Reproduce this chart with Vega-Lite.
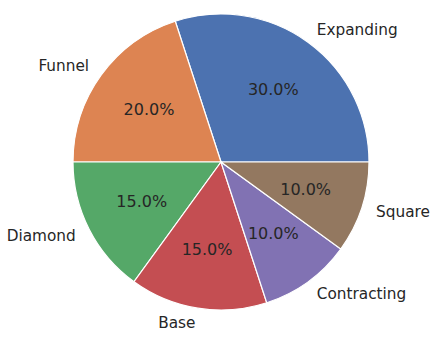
{
"$schema": "https://vega.github.io/schema/vega-lite/v6.json",
"width": 442, "height": 324, "autosize": "none", "padding": {"left":0,"top":0,"right":0,"bottom":21},
"background": "white",
"data": {"values": [
 {"category":"Expanding","value":30,"ord":6,"pct":"30.0%","lab_l":"Expanding","lab_r":""},
 {"category":"Funnel","value":20,"ord":5,"pct":"20.0%","lab_l":"","lab_r":"Funnel"},
 {"category":"Diamond","value":15,"ord":4,"pct":"15.0%","lab_l":"","lab_r":"Diamond"},
 {"category":"Base","value":15,"ord":3,"pct":"15.0%","lab_l":"","lab_r":"Base"},
 {"category":"Contracting","value":10,"ord":2,"pct":"10.0%","lab_l":"Contracting","lab_r":""},
 {"category":"Square","value":10,"ord":1,"pct":"10.0%","lab_l":"Square","lab_r":""}
]},
"encoding": {
 "theta": {"field":"value","type":"quantitative","stack":true,"scale":{"range":[1.5708,7.854]}},
 "order": {"field":"ord","type":"quantitative"}
},
"layer": [
 {"mark": {"type":"arc","outerRadius":148,"stroke":"white","strokeWidth":1.2},
  "encoding":{"color":{"field":"category","type":"nominal","legend":null,
   "scale":{"domain":["Expanding","Funnel","Diamond","Base","Contracting","Square"],
            "range":["#4C72B0","#DD8452","#55A868","#C44E52","#8172B3","#937860"]}}}},
 {"mark":{"type":"text","radius":89,"fontSize":16,"font":"DejaVu Sans","fill":"#262626","baseline":"middle","align":"center"},
  "encoding":{"text":{"field":"pct","type":"nominal"}}},
 {"mark":{"type":"text","radius":163,"fontSize":15.3,"font":"DejaVu Sans","fill":"#262626","baseline":"middle","align":"left"},
  "encoding":{"text":{"field":"lab_l","type":"nominal"}}},
 {"mark":{"type":"text","radius":163,"fontSize":15.3,"font":"DejaVu Sans","fill":"#262626","baseline":"middle","align":"right"},
  "encoding":{"text":{"field":"lab_r","type":"nominal"}}}
]
}
